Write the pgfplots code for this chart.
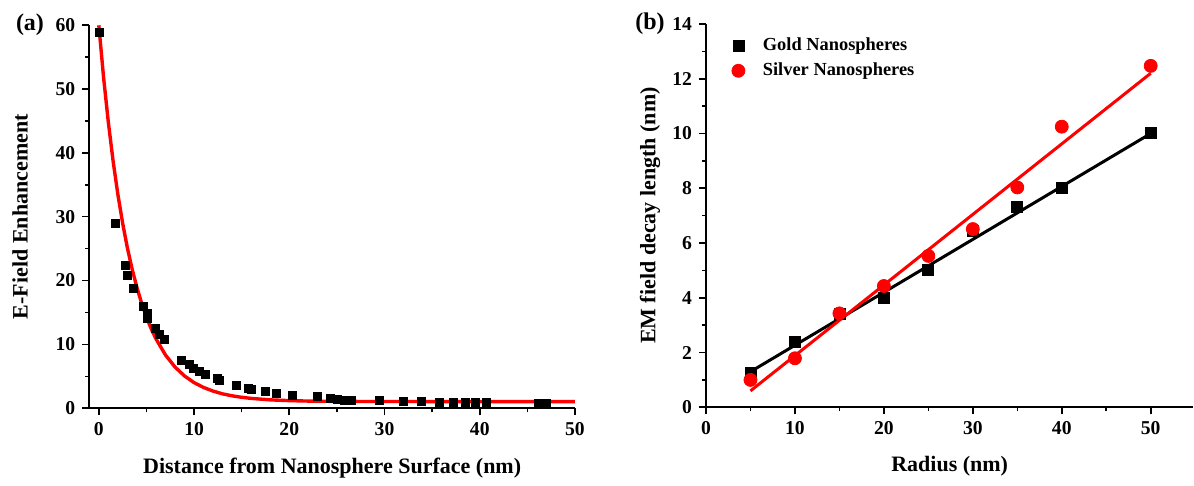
\documentclass[border=0pt]{standalone}
\usepackage{fontspec}
\setmainfont{Liberation Serif}
\usepackage{pgfplots}
\usepackage{pgfplotstable}
\pgfplotsset{compat=1.18}

% Field enhancement versus distance from the sphere surface
\pgfplotstableread{
x y
0.1 58.8
1.76 28.95
2.77 22.3
3.02 20.8
3.58 18.8
4.63 16.0
5.05 14.9
5.05 14.1
5.93 12.5
6.38 11.5
6.84 10.8
8.66 7.56
9.54 6.9
9.96 6.26
10.59 5.73
11.15 5.37
12.5 4.7
12.7 4.43
14.4 3.6
15.7 3.1
16.0 2.97
17.5 2.7
18.65 2.35
20.3 2.08
22.9 1.8
24.3 1.56
25.0 1.4
25.8 1.3
26.5 1.3
29.5 1.2
32.0 1.05
33.9 1.05
35.8 0.95
37.2 0.95
38.5 0.95
39.5 0.95
40.7 0.95
46.2 0.8
47.0 0.8
}\enhancement

% Exponential decay fit
\pgfplotstableread{
x y
0 59.95
0.5 51.78
1 44.75
1.5 38.69
2 33.47
2.5 28.98
3 25.10
3.5 21.77
4 18.90
4.5 16.42
5 14.29
5.5 12.45
6 10.87
7 8.34
8 6.46
9 5.06
10 4.02
11 3.26
12 2.69
13 2.26
14 1.95
15 1.72
16 1.55
18 1.32
20 1.20
22 1.13
25 1.08
30 1.06
40 1.05
50 1.05
}\decayfit

% Decay length versus radius
\pgfplotstableread{
r gold silver
5 1.24 1.0
10 2.40 1.79
15 3.40 3.43
20 4.0 4.43
25 5.01 5.53
30 6.44 6.51
35 7.33 8.03
40 8.03 10.25
50 10.03 12.47
}\decaylength

\begin{document}
\begin{tikzpicture}
\useasboundingbox (0,0) rectangle (597pt,243pt);
\pgfplotsset{
  panel/.style={
    scale only axis,
    axis lines*=left,
    axis line style={line width=0.9pt},
    tick align=outside,
    major tick length=3.5pt,
    minor tick length=2pt,
    every tick/.style={black, line width=0.8pt},
    /pgf/number format/assume math mode=true,
    tick label style={font=\fontsize{9.8}{11}\selectfont\bfseries},
    label style={font=\fontsize{11}{13}\selectfont\bfseries},
    clip=false,
  }
}

% (a) E-field enhancement
\begin{axis}[panel,
  at={(44.65pt,38.85pt)}, anchor=south west,
  width=242.85pt, height=191.65pt,
  xmin=-1, xmax=50, ymin=0, ymax=60,
  xtick={0,10,...,50}, minor xtick={5,15,...,45},
  ytick={0,10,...,60}, minor ytick={5,15,...,55},
  xlabel={Distance from Nanosphere Surface (nm)},
  ylabel={E-Field Enhancement},
  xlabel style={at={(axis description cs:0.5,-0.155)}, anchor=center},
  ylabel style={at={(axis description cs:-0.1427,0.5)}, anchor=center},
]
\addplot[red, line width=1.7pt, no marks] table[x=x, y=y] {\decayfit};
\addplot[only marks, mark=square*, mark size=2pt, black] table[x=x, y=y] {\enhancement};
\end{axis}
\node[font=\fontsize{12}{14}\selectfont\bfseries] at (15pt,230.5pt) {(a)};

% (b) EM field decay length
\begin{axis}[panel,
  at={(353pt,39.35pt)}, anchor=south west,
  width=243.7pt, height=191.65pt,
  xmin=0, xmax=54.8, ymin=0, ymax=14,
  xtick={0,10,...,50}, minor xtick={5,15,...,55},
  ytick={0,2,...,14}, minor ytick={1,3,...,13},
  xlabel={Radius (nm)},
  ylabel={EM field decay length (nm)},
  xlabel style={at={(axis description cs:0.5,-0.155)}, anchor=center},
  ylabel style={at={(axis description cs:-0.115,0.5)}, anchor=center},
  legend style={at={(axis description cs:0.04,0.985)}, anchor=north west,
    draw=none, fill=none, font=\fontsize{9.2}{11}\selectfont\bfseries,
    row sep=0.5pt, /tikz/every odd column/.append style={column sep=7pt}},
  legend cell align=left,
]
\addplot[only marks, mark=square*, mark size=2.75pt, black] table[x=r, y=gold] {\decaylength};
\addlegendentry{Gold Nanospheres}
\addplot[only marks, mark=*, mark size=3.25pt, red] table[x=r, y=silver] {\decaylength};
\addlegendentry{Silver Nanospheres}
\addplot[black, line width=1.5pt, no marks, forget plot] coordinates {(5,1.3) (50,10.0)};
\addplot[red, line width=1.5pt, no marks, forget plot] coordinates {(5,0.6) (50,12.2)};
\end{axis}
\node[font=\fontsize{12}{14}\selectfont\bfseries] at (325pt,231pt) {(b)};
\end{tikzpicture}
\end{document}
